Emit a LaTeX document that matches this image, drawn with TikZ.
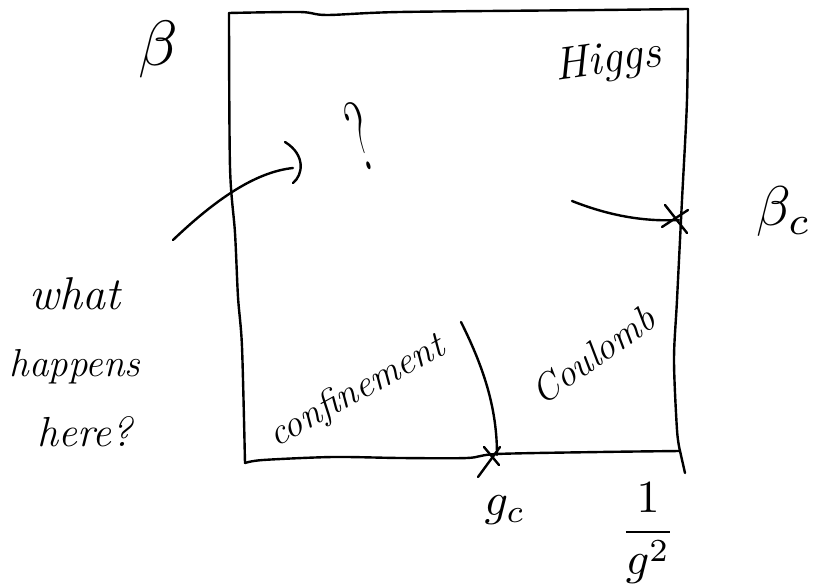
\documentclass[tikz,border=0pt]{standalone}
\usetikzlibrary{arrows.meta}
\begin{document}
\begin{tikzpicture}[x=1pt,y=-1pt,
  ink/.style={line width=2.4pt, line cap=round, line join=round},
  hand/.style={inner sep=0pt, font=\fontsize{38}{38}\selectfont\itshape},
  mathlbl/.style={inner sep=0pt},
]
\useasboundingbox (0,0) rectangle (819,585);
% corners
\coordinate (TL) at (229,13);
\coordinate (TR) at (688,9);
\coordinate (BR) at (680,451);
\coordinate (BL) at (245,463);
\coordinate (tail) at (685,473);
\coordinate (gc) at (497,455);
\coordinate (bc) at (679,220);
\coordinate (arrowend) at (293,168);
\coordinate (barbtop) at (285,142);
\coordinate (barbbot) at (293,183);
% box edges
\draw[ink] plot[smooth, tension=0.5] coordinates {(229,13) (300,12) (327,15) (400,12) (600,10) (688,9)};
\draw[ink] plot[smooth, tension=0.5] coordinates {(229,13) (230,167) (235,233) (238,297) (242,347) (245,463)};
\draw[ink] plot[smooth, tension=0.5] coordinates {(245,463) (263,460) (333,457) (400,458) (467,458) (497,454) (600,452) (680,451)};
\draw[ink] plot[smooth, tension=0.5] coordinates {(688,9) (687,100) (682,200) (677,300) (674,360) (677,430) (680,451)};
\draw[ink] (BR) -- (tail);
% labels
\node[mathlbl] (beta) at (158,50) {\scalebox{6.4}{$\beta$}};
\node[hand, font=\fontsize{46}{46}\selectfont\itshape, rotate=8] (higgs) at (608,62) {Higgs};
\node[hand, font=\fontsize{50}{50}\selectfont, rotate=18] (q) at (360,136) {\scalebox{0.9}[2.0]{?}};
\node[hand, font=\fontsize{46}{46}\selectfont\itshape] (what) at (75,294) {what};
\node[hand, font=\fontsize{39}{39}\selectfont\itshape] (happens) at (75,367) {happens};
\node[hand, font=\fontsize{42}{42}\selectfont\itshape] (here) at (85,432) {here?};
\node[hand, rotate=29] (conf) at (357,392) {confinement};
\node[hand, rotate=35] (coul) at (593,355) {Coulomb};
\node[mathlbl] (betac) at (784,212) {\scalebox{5.6}{$\beta_c$}};
\node[mathlbl] (gclbl) at (505,510) {\scalebox{4.6}{$g_c$}};
\node[mathlbl] (inv) at (648,533) {\scalebox{4.6}{$\displaystyle\frac{1}{g^2}$}};
% arrow to the question, with a hand-drawn bracket tip
\draw[ink] (173,240) .. controls (215,200) and (255,172) .. (arrowend);
\draw[ink] (barbtop) .. controls (306,155) and (303,175) .. (barbbot);
% beta_c line and cross
\draw[ink] (572,201) .. controls (605,214) and (640,222) .. (bc);
\draw[ink] (665,205) -- (687,233);
\draw[ink] (662,227) -- (688,210);
% confinement / Coulomb boundary and cross
\draw[ink] (461,322) .. controls (485,370) and (497,410) .. (gc);
\draw[ink] (478,477) -- (500,447);
\draw[ink] (484,447) -- (499,465);
\end{tikzpicture}
\end{document}
